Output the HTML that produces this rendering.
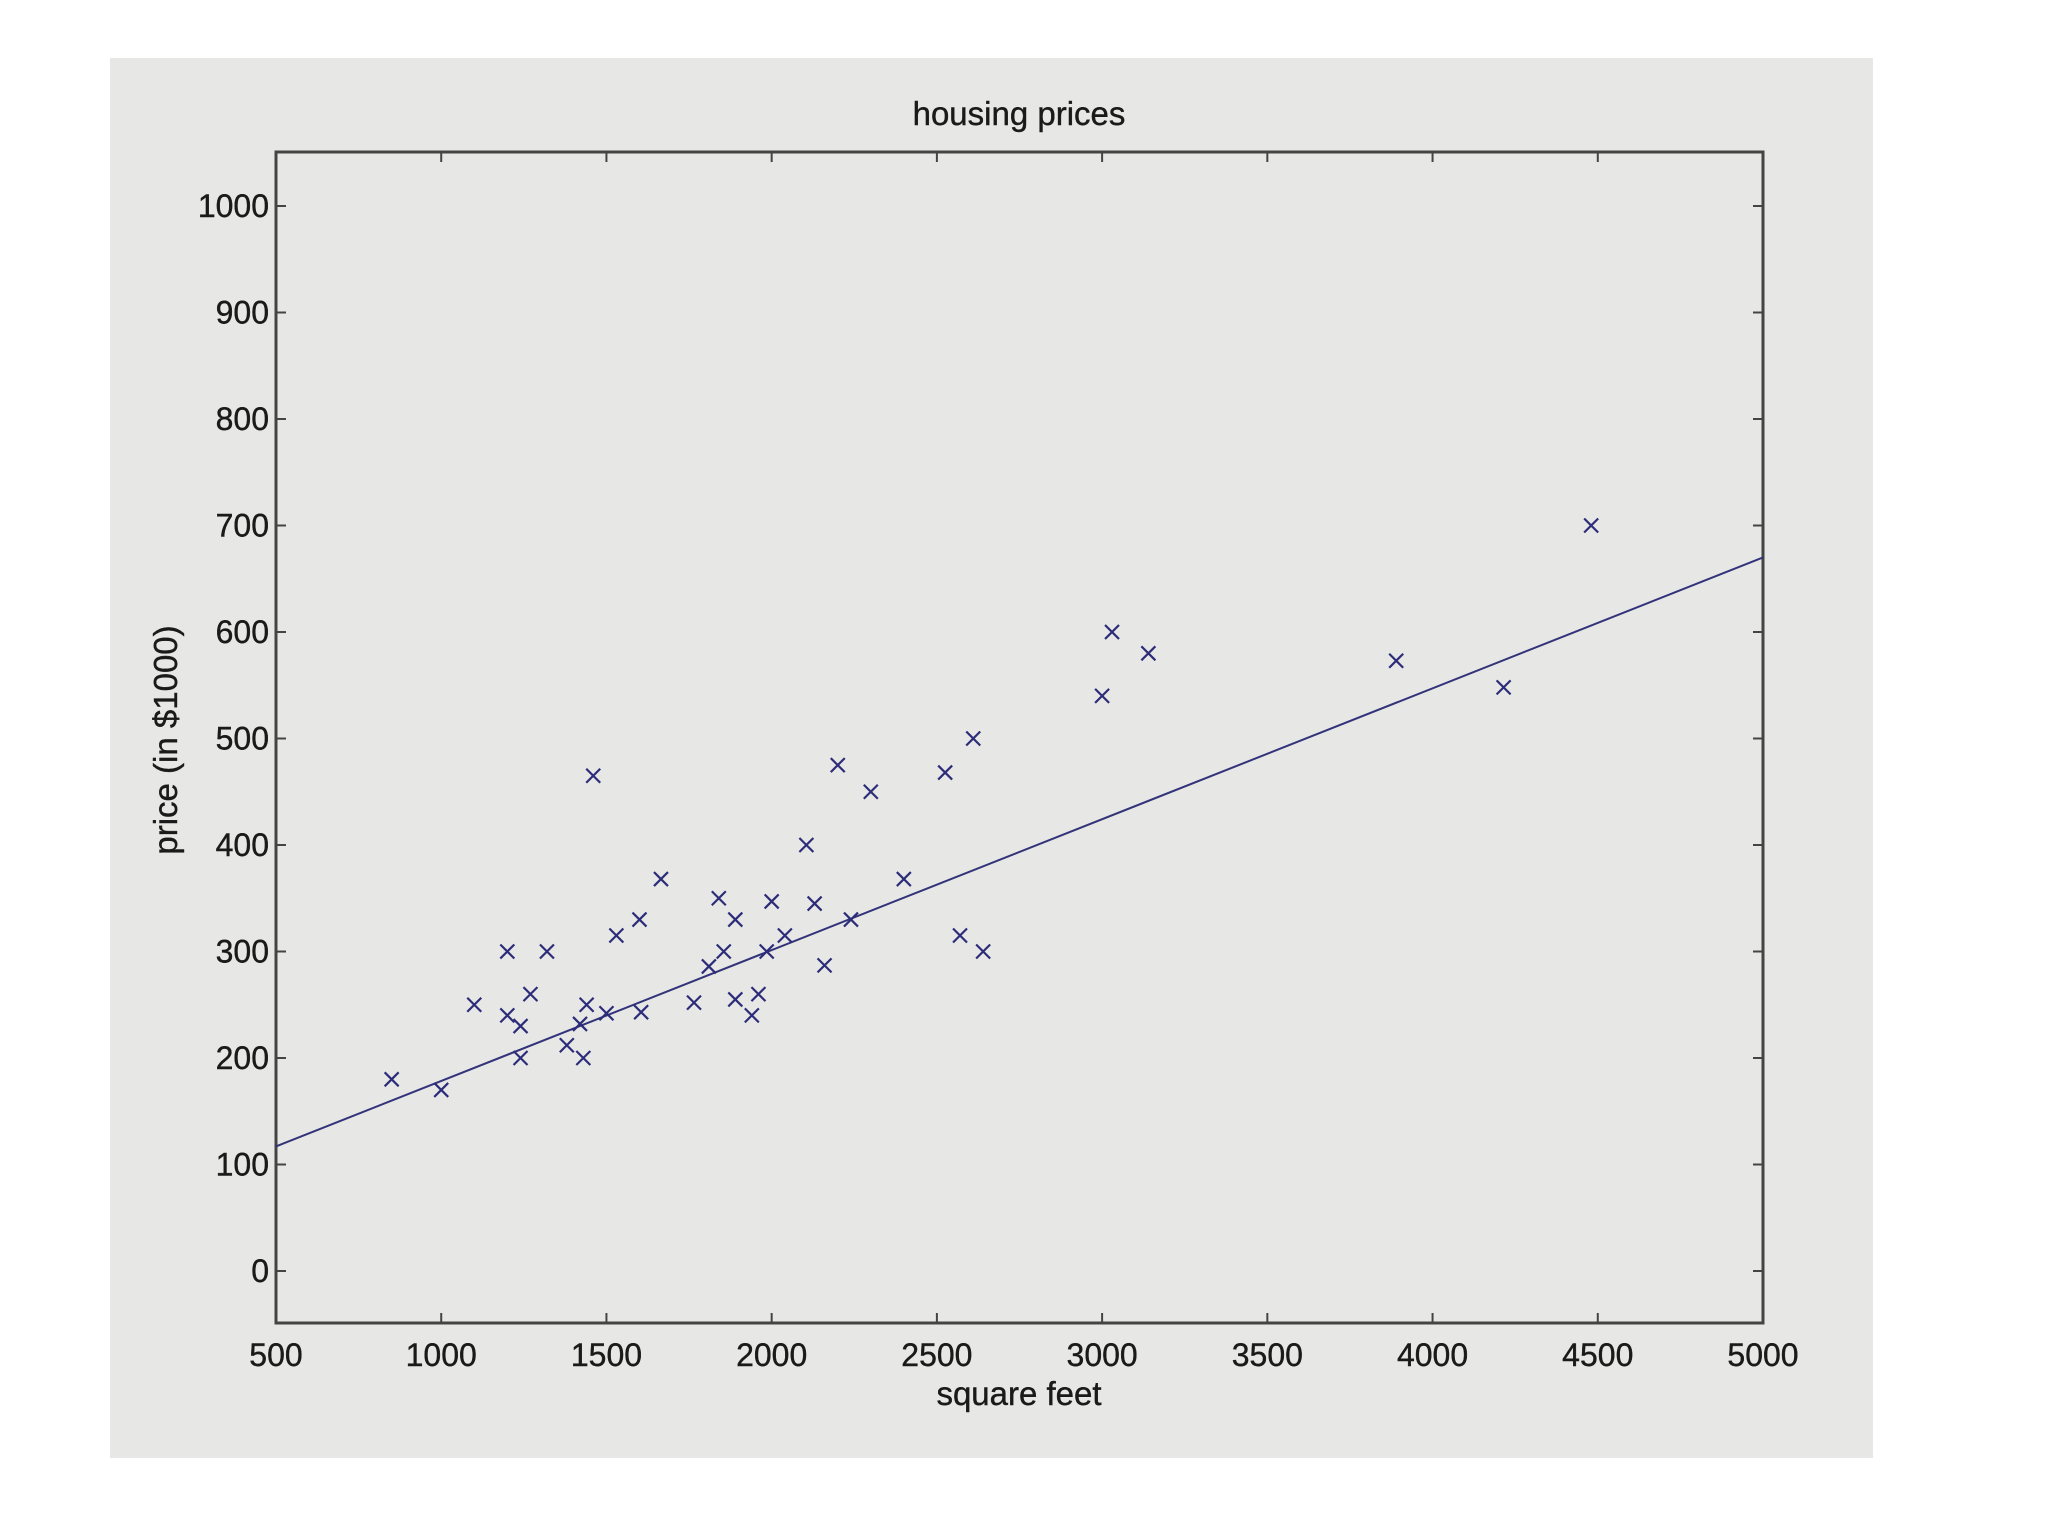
<!DOCTYPE html>
<html><head><meta charset="utf-8"><style>
html,body{margin:0;padding:0;background:#fff;width:2048px;height:1536px;overflow:hidden}
svg{display:block}
text{font-family:"Liberation Sans",sans-serif;fill:#1a1a1a;stroke:#1a1a1a;stroke-width:0.4}
</style></head><body>
<svg id="chart" width="2048" height="1536" viewBox="0 0 2048 1536">
<rect x="110" y="58" width="1763" height="1400" fill="#e7e8e6"/>
<text x="1019" y="125" font-size="33" text-anchor="middle">housing prices</text>
<text x="1019" y="1405" font-size="33" text-anchor="middle">square feet</text>
<text x="0" y="0" font-size="33" text-anchor="middle" transform="translate(177,740) rotate(-90)">price (in $1000)</text>
<g id="axes"></g>
<g id="marks"></g>
</svg>
<script>
const xTicks=[500,1000,1500,2000,2500,3000,3500,4000,4500,5000];
const yTicks=[0,100,200,300,400,500,600,700,800,900,1000];
const sqft=[850,1000,1100,1200,1200,1240,1240,1270,1320,1380,1420,1430,1440,1460,1500,1530,1600,1605,1665,1765,1810,1840,1855,1890,1890,1940,1960,1985,2000,2040,2105,2130,2160,2200,2240,2300,2400,2525,2570,2610,2640,3000,3030,3140,3890,4215,4480];
const price=[180,170,250,300,240,230,200,260,300,212,232,200,250,465,242,315,330,243,368,252,286,350,300,330,255,240,260,300,347,315,400,345,287,475,330,450,368,468,315,500,300,540,600,580,573,548,700];
const fitX=[500,5000];
const fitY=[117,670];
const L=276,R=1763,T=152,B=1323;
const X=v=>L+(v-500)*(R-L)/4500;
const Y=v=>1271-v*1.065;
const NS='http://www.w3.org/2000/svg';
const axes=document.getElementById('axes'),marks=document.getElementById('marks');
function mk(tag,attrs,parent){const e=document.createElementNS(NS,tag);for(const k in attrs)e.setAttribute(k,attrs[k]);parent.appendChild(e);return e;}
const frame=mk('rect',{x:L,y:T,width:R-L,height:B-T,fill:'none',stroke:'#444','stroke-width':3},axes);


xTicks.forEach(v=>{
  const x=X(v);
  const t1=mk('line',{x1:x,x2:x,y1:B,y2:B-10,stroke:'#444','stroke-width':2},axes);
  
  
  const t2=mk('line',{x1:x,x2:x,y1:T,y2:T+10,stroke:'#444','stroke-width':2},axes);
  
  
  const lb=mk('text',{x:x,y:B+43,'font-size':32,'text-anchor':'middle'},axes);
  lb.textContent=v;
  
  
});
yTicks.forEach(v=>{
  const y=Y(v);
  const t1=mk('line',{x1:L,x2:L+10,y1:y,y2:y,stroke:'#444','stroke-width':2},axes);
  
  
  const t2=mk('line',{x1:R,x2:R-10,y1:y,y2:y,stroke:'#444','stroke-width':2},axes);
  
  
  const lb=mk('text',{x:L-7,y:y+11,'font-size':32,'text-anchor':'end'},axes);
  lb.textContent=v;
  
  
});
const fit=mk('line',{x1:X(fitX[0]),y1:Y(fitY[0]),x2:X(fitX[1]),y2:Y(fitY[1]),stroke:'#33337a','stroke-width':2},marks);


sqft.forEach((s,i)=>{
  const cx=X(s),cy=Y(price[i]),d=7;
  const p=mk('path',{d:`M${cx-d},${cy-d}L${cx+d},${cy+d}M${cx-d},${cy+d}L${cx+d},${cy-d}`,stroke:'#2c2c78','stroke-width':2.2,fill:'none'},marks);
  
  
});
</script>
</body></html>
